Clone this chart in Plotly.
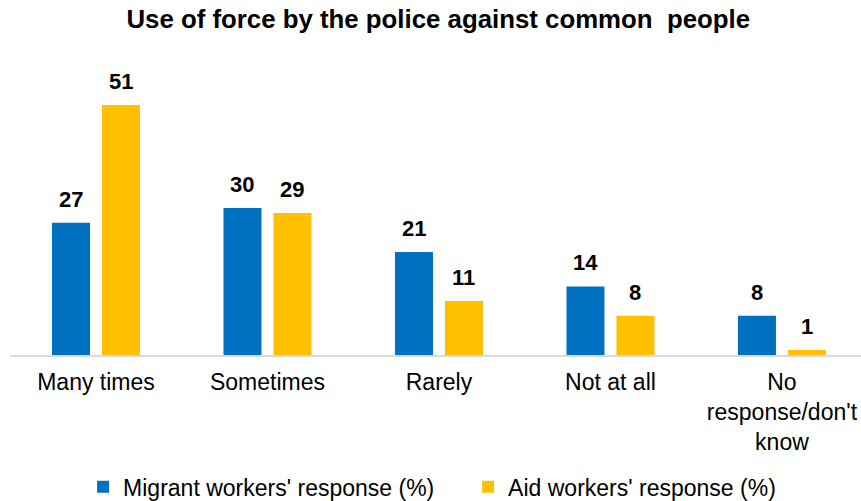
import plotly.graph_objects as go

# Survey answers and the share (%) of each group of respondents
categories = ["Many times", "Sometimes", "Rarely", "Not at all", "No<br>response/don't<br>know"]
migrant_workers = [27, 30, 21, 14, 8]
aid_workers = [51, 29, 11, 8, 1]
series_names = ["Migrant workers' response (%)", "Aid workers' response (%)"]

BLUE = "#0070C0"
GOLD = "#FFC000"
FONT = "Liberation Sans, Arial, sans-serif"

BAR_W = 0.2216
OFFSETS = [-0.2566, 0.035]

positions = list(range(len(categories)))

fig = go.Figure()
for name, values, color, off in zip(series_names, [migrant_workers, aid_workers], [BLUE, GOLD], OFFSETS):
    fig.add_trace(go.Bar(
        x=positions, y=values, name=name,
        width=BAR_W, offset=off,
        marker=dict(color=color, line=dict(width=0)),
        hoverinfo="skip",
    ))
    # value labels above each bar
    for p, v in zip(positions, values):
        fig.add_annotation(
            x=p + off + BAR_W / 2, y=v, xref="x", yref="y",
            text=f"<b>{v}</b>", showarrow=False,
            yanchor="bottom", xanchor="center", yshift=9,
            font=dict(family=FONT, size=22, color="#000000"),
        )

fig.update_layout(
    width=861, height=501,
    margin=dict(l=10, r=0, t=60, b=146, autoexpand=False),
    paper_bgcolor="white", plot_bgcolor="white",
    barmode="overlay",
    title=dict(
        text="<b>Use of force by the police against common  people</b>",
        x=0.509, xanchor="center", y=0.962, yanchor="middle",
        font=dict(family=FONT, size=25.8, color="#000000"),
    ),
    xaxis=dict(
        range=[-0.5015, 4.461], tickmode="array", tickvals=positions, ticktext=categories,
        showgrid=False, zeroline=False, showline=True, linecolor="#D9D9D9", linewidth=1.5,
        ticks="", ticklabelstandoff=6,
        tickfont=dict(family=FONT, size=23, color="#000000"),
    ),
    yaxis=dict(range=[0, 60.2], visible=False, showgrid=False, zeroline=False),
    legend=dict(
        orientation="h", x=0.0859, xanchor="left", y=-0.447, yanchor="middle",
        font=dict(family=FONT, size=23, color="#000000"), itemwidth=30,
        entrywidth=340, entrywidthmode="pixels",
        traceorder="normal",
    ),
    showlegend=True,
)

fig.write_html("out.html")
